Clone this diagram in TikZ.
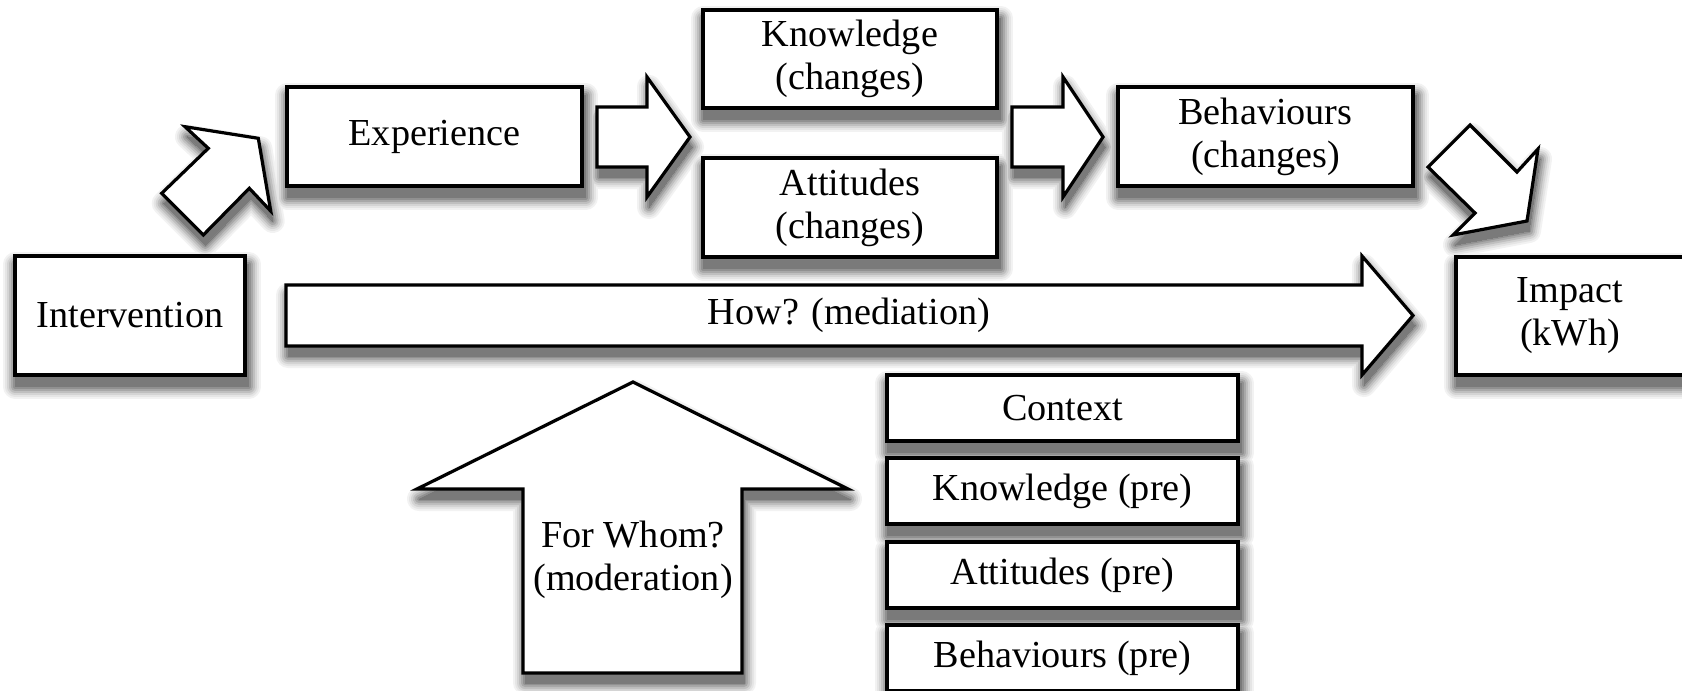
\documentclass[tikz,border=0pt]{standalone}
\usepackage{fontspec}
\setmainfont{Liberation Serif}
\usetikzlibrary{backgrounds}
\tikzset{
  txt/.style={font=\fontsize{19.1}{21.5}\selectfont, align=center},
  box/.style={draw=black, line width=1.6pt, fill=white, inner sep=0pt, txt},
  blk/.style={draw=black, line width=1.6pt, fill=white, line join=miter},
  shd/.style={fill=black!#1, draw=black!#1, line join=round},
}
% shadow outlines of every shape, offset down-right
\newcommand\shadowshapes[1]{%
  \foreach \n in {interv,exper,knowc,attc,behc,impact,context,knowp,attp,behp}{
    \filldraw[#1] ([shift={(2,10)}]\n.north west) rectangle ([shift={(2,10)}]\n.south east);
  }
  \begin{scope}[shift={(2,10)}]
  \filldraw[#1] (161.7,193.3) -- (208.3,148.3) -- (185,126.7) -- (258.3,138.3) -- (270.7,211) -- (249.3,188.3) -- (203.3,235) -- cycle;
  \filldraw[#1] (597,107) -- (647,107) -- (647,77) -- (690,137) -- (647,197) -- (647,167) -- (597,167) -- cycle;
  \filldraw[#1] (1012,107) -- (1063,107) -- (1063,77) -- (1103,137) -- (1063,197) -- (1063,167) -- (1012,167) -- cycle;
  \filldraw[#1] (1470,125) -- (1517,172) -- (1538,149) -- (1527,221) -- (1453,235) -- (1475,213) -- (1428,167) -- cycle;
  \filldraw[#1] (286,285) -- (1362,285) -- (1362,256) -- (1413,315.5) -- (1362,375) -- (1362,346) -- (286,346) -- cycle;
  \filldraw[#1] (523,673) -- (523,489) -- (417,489) -- (633,382) -- (848,489) -- (742,489) -- (742,673) -- cycle;
  \end{scope}
}
\begin{document}
\begin{tikzpicture}[x=0.5pt, y=-0.5pt]
\useasboundingbox (0,0) rectangle (1682,691);
% boxes
\node[box, minimum width=115pt, minimum height=59.5pt] (interv) at (130,315.5) {Intervention};
\node[box, minimum width=147.5pt, minimum height=49.5pt] (exper) at (434.5,136.5) {Experience};
\node[box, minimum width=147pt, minimum height=49pt] (knowc) at (850,59) {Knowledge\\(changes)};
\node[box, minimum width=147pt, minimum height=49.5pt] (attc) at (850,207.5) {Attitudes\\(changes)};
\node[box, minimum width=147.5pt, minimum height=49.5pt] (behc) at (1265.5,136.5) {Behaviours\\(changes)};
\node[box, minimum width=114pt, minimum height=59pt] (impact) at (1570,316) {Impact\\(kWh)};
\node[box, minimum width=175.5pt, minimum height=33pt] (context) at (1062.5,408) {Context};
\node[box, minimum width=175.5pt, minimum height=33pt] (knowp) at (1062.5,491) {Knowledge (pre)};
\node[box, minimum width=175.5pt, minimum height=33pt] (attp) at (1062.5,575) {Attitudes (pre)};
\node[box, minimum width=175.5pt, minimum height=33pt] (behp) at (1062.5,658) {Behaviours (pre)};
% block arrows
\draw[blk] (161.7,193.3) -- (208.3,148.3) -- (185,126.7) -- (258.3,138.3) -- (270.7,211) -- (249.3,188.3) -- (203.3,235) -- cycle;
\draw[blk] (597,107) -- (647,107) -- (647,77) -- (690,137) -- (647,197) -- (647,167) -- (597,167) -- cycle;
\draw[blk] (1012,107) -- (1063,107) -- (1063,77) -- (1103,137) -- (1063,197) -- (1063,167) -- (1012,167) -- cycle;
\draw[blk] (1470,125) -- (1517,172) -- (1538,149) -- (1527,221) -- (1453,235) -- (1475,213) -- (1428,167) -- cycle;
\draw[blk] (286,285) -- (1362,285) -- (1362,256) -- (1413,315.5) -- (1362,375) -- (1362,346) -- (286,346) -- cycle;
\draw[blk] (523,673) -- (523,489) -- (417,489) -- (633,382) -- (848,489) -- (742,489) -- (742,673) -- cycle;
\node[txt] (how) at (849,315.5) {How? (mediation)};
\node[txt] (whom) at (633,560) {For Whom?\\(moderation)};
% soft drop shadows
\begin{scope}[on background layer]
  \foreach \e/\g in {12/5,10/10,8/17,6/25,4/34,2/43,0/52}{
    \shadowshapes{shd=\g, line width=\e pt}
  }
\end{scope}
\end{tikzpicture}
\end{document}
